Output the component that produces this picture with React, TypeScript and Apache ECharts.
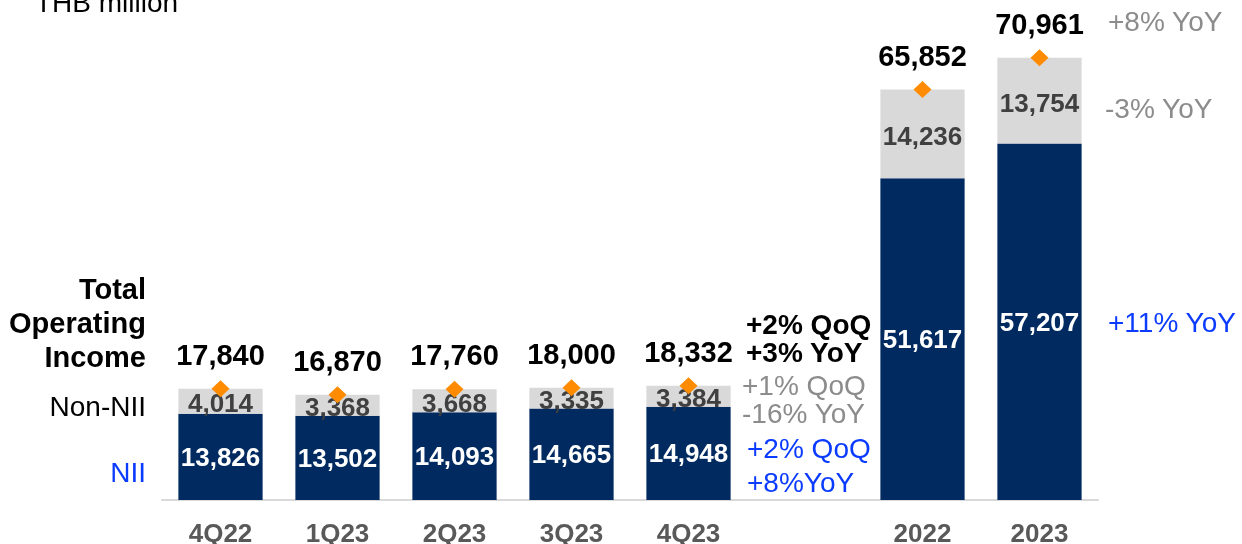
import React, { useEffect, useRef } from "react";
import * as echarts from "echarts";

const categories = ["4Q22", "1Q23", "2Q23", "3Q23", "4Q23", "", "2022", "2023"];
const nii = [13826, 13502, 14093, 14665, 14948, null, 51617, 57207];
const nonNii = [4014, 3368, 3668, 3335, 3384, null, 14236, 13754];
const total = [17840, 16870, 17760, 18000, 18332, null, 65852, 70961];

const NAVY = "#002A60";
const LIGHT = "#D9D9D9";
const BLUE = "#0B3BFF";
const GRAY = "#8C8C8C";
const FONT = "'Liberation Sans', Arial, sans-serif";

const fmt = (v: number) => v.toLocaleString("en-US");

export default function App() {
  const ref = useRef<HTMLDivElement>(null);
  useEffect(() => {
    if (!ref.current) return;
    const chart = echarts.init(ref.current, undefined, { renderer: "svg" });
    const t = (x: number, y: number, text: string, opts: any = {}) => ({
      type: "text",
      x,
      y,
      style: {
        text,
        fontFamily: FONT,
        fontSize: opts.size ?? 28,
        lineHeight: opts.lh ?? 26,
        fontWeight: opts.bold ? "bold" : "normal",
        fill: opts.color ?? "#000",
        align: opts.align ?? "left",
        verticalAlign: "middle",
      },
    });
    chart.setOption({
      animation: false,
      textStyle: { fontFamily: FONT },
      grid: {
        left: 162,
        right: 144,
        top: 1.4,
        bottom: 44,
        containLabel: false,
        outerBoundsMode: "none",
      },
      xAxis: {
        type: "category",
        data: categories,
        axisTick: { show: false },
        axisLine: { lineStyle: { color: "#D9D9D9", width: 2 } },
        axisLabel: {
          color: "#595959",
          fontSize: 26,
          fontWeight: "bold",
          margin: 20,
          fontFamily: FONT,
        },
      },
      yAxis: {
        type: "value",
        min: 0,
        max: 80000,
        show: false,
        splitLine: { show: false },
      },
      series: [
        {
          type: "bar",
          stack: "t",
          data: nii,
          barCategoryGap: "28%",
          itemStyle: { color: NAVY },
          label: {
            show: true,
            position: "inside",
            color: "#fff",
            fontSize: 26,
            fontWeight: "bold",
            fontFamily: FONT,
            formatter: (p: any) => fmt(p.value),
          },
        },
        {
          type: "bar",
          stack: "t",
          data: nonNii,
          itemStyle: { color: LIGHT },
          label: {
            show: true,
            position: "inside",
            offset: [0, 2],
            color: "#404040",
            fontSize: 26,
            fontWeight: "bold",
            fontFamily: FONT,
            formatter: (p: any) => fmt(p.value),
          },
        },
        {
          type: "scatter",
          data: total,
          symbol: "diamond",
          symbolSize: [18, 17],
          itemStyle: { color: "#FF8C00", opacity: 1 },
          z: 5,
          label: {
            show: true,
            position: "top",
            distance: 11,
            color: "#000",
            fontSize: 29,
            fontWeight: "bold",
            fontFamily: FONT,
            formatter: (p: any) => fmt(p.value),
          },
        },
      ],
      graphic: [
        t(35, 2, "THB million", { lh: 30 }),
        t(146, 289, "Total", { size: 29, lh: 32, bold: true, align: "right" }),
        t(146, 323, "Operating", { size: 29, lh: 32, bold: true, align: "right" }),
        t(146, 357, "Income", { size: 29, lh: 32, bold: true, align: "right" }),
        t(146, 406, "Non-NII", { lh: 30, align: "right" }),
        t(146, 472, "NII", { lh: 30, align: "right", color: BLUE }),
        t(746, 324, "+2% QoQ", { bold: true }),
        t(746, 352, "+3% YoY", { bold: true }),
        t(742, 385, "+1% QoQ", { color: GRAY }),
        t(742, 413, "-16% YoY", { color: GRAY }),
        t(747, 448, "+2% QoQ", { color: BLUE }),
        t(747, 482, "+8%YoY", { color: BLUE }),
        t(1108, 21, "+8% YoY", { color: GRAY }),
        t(1105, 108, "-3% YoY", { color: GRAY }),
        t(1108, 322, "+11% YoY", { color: BLUE }),
      ],
    });
    return () => chart.dispose();
  }, []);
  return (
    <div
      ref={ref}
      style={{ position: "fixed", left: 0, top: 0, width: 1242, height: 544 }}
    />
  );
}
